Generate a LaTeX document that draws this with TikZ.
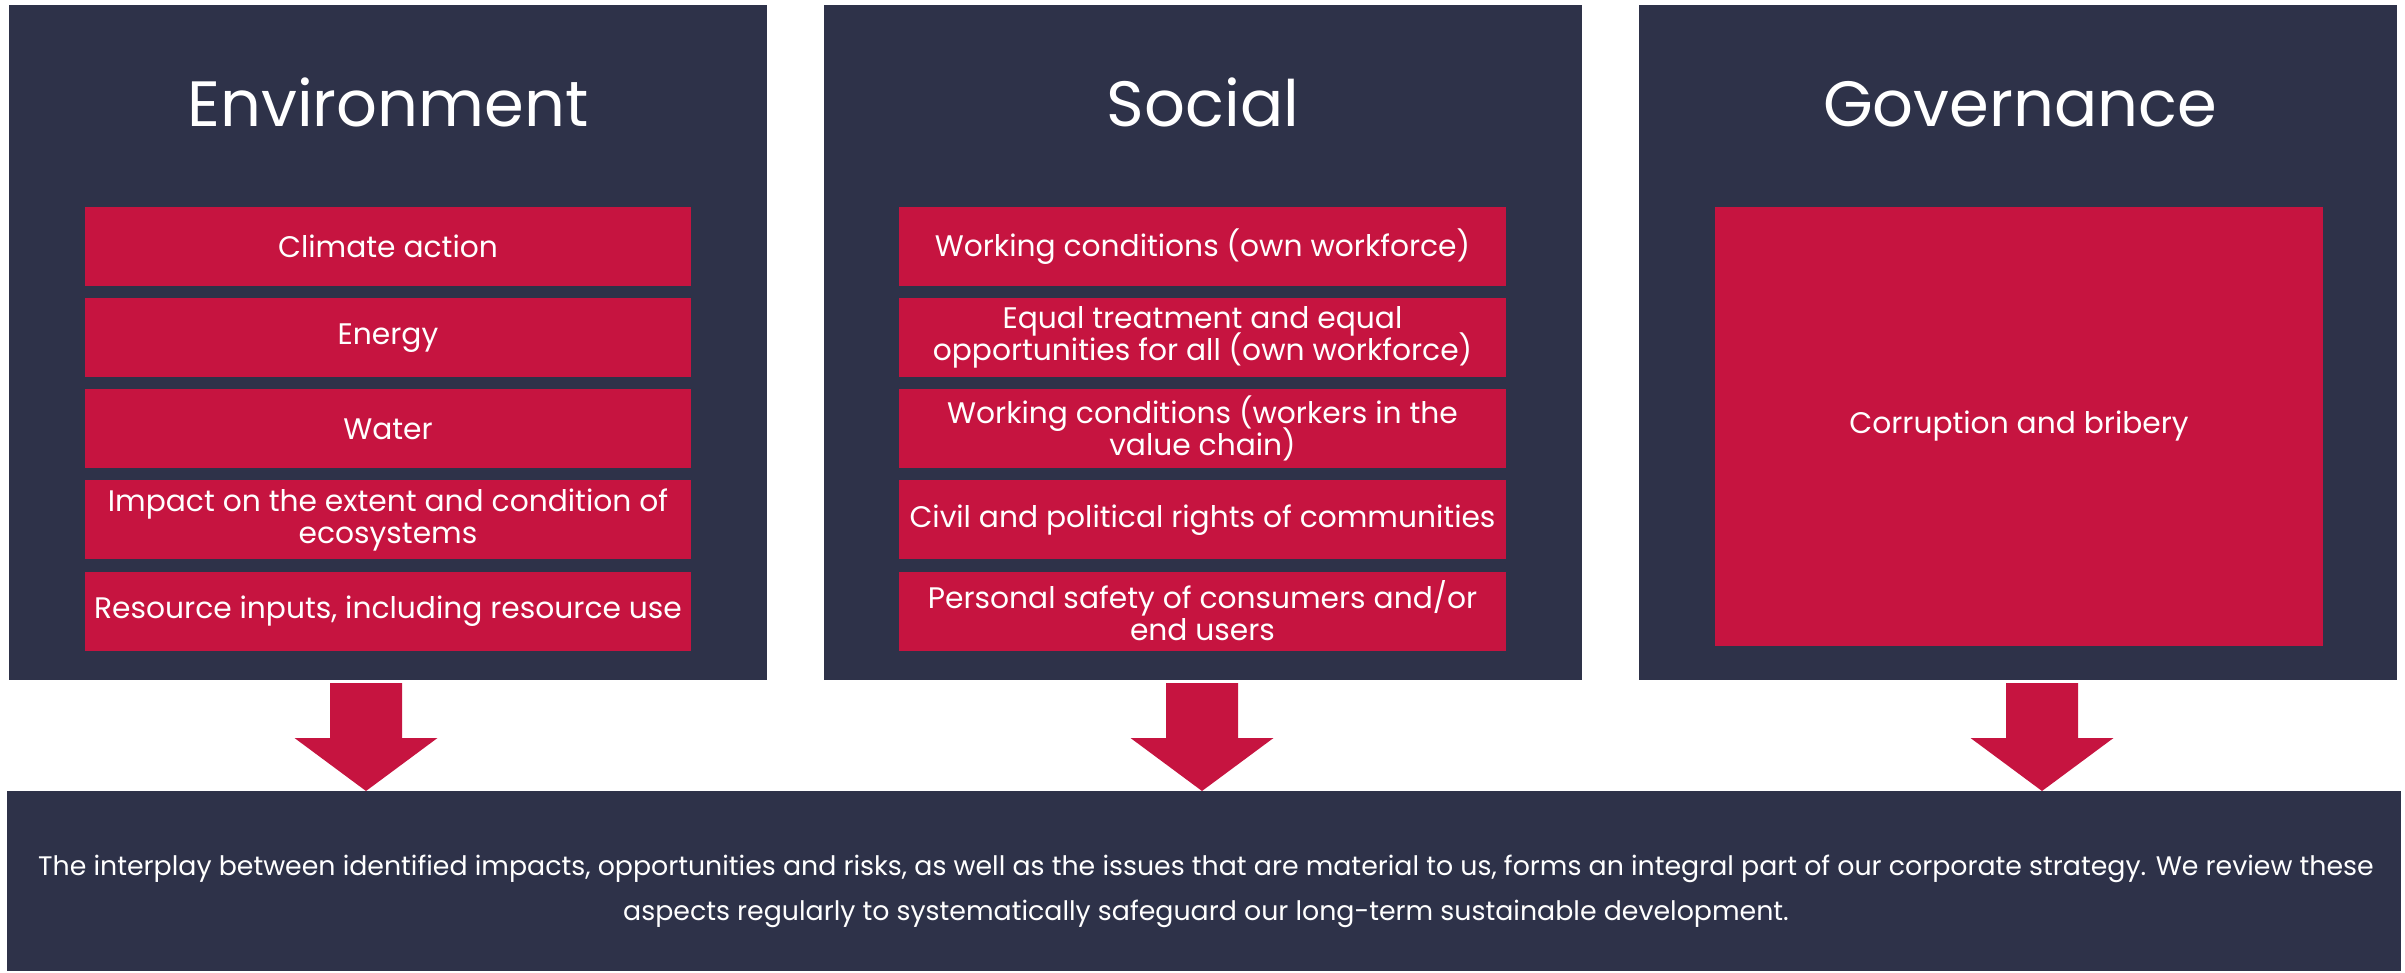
\documentclass[tikz,border=0pt]{standalone}
\usepackage{fontspec}
\setmainfont{Poppins}
\usepackage{tikz}
\usetikzlibrary{positioning}

\definecolor{esgnavy}{RGB}{46,50,73}
\definecolor{esgred}{RGB}{198,20,64}

\newcommand{\TightLines}{\setlength{\lineskiplimit}{-100pt}}

\tikzset{Panel/.style={fill=esgnavy, minimum width=7.58cm, minimum height=6.75cm, inner sep=0}}
\tikzset{Head/.style={text=white, font=\fontsize{18.2}{22}\selectfont, anchor=base}}
\tikzset{Topic/.style={fill=esgred, text=white, minimum width=6.06cm, minimum height=0.79cm,
    inner sep=0, align=center, font=\fontsize{8.45}{9.1}\selectfont\TightLines}}
\tikzset{Summary/.style={text=white, align=center, inner sep=0,
    font=\fontsize{7.62}{12.8}\selectfont\TightLines}}

\newcommand{\DownArrow}[1]{
    \fill[esgred] (#1) ++(-36,0) -- ++(72,0) -- ++(0,55) -- ++(35.5,0)
        -- ++(-71.5,53) -- ++(-71.5,-53) -- ++(35.5,0) -- cycle;
}

\begin{document}
\begin{tikzpicture}[x=0.01cm, y=-0.01cm, node distance=0.107cm]
    \useasboundingbox (0,0) rectangle (2405,973);

    %% Panels
    \node[Panel] (env) at (388,342.5) {};
    \node[Panel] (soc) at (1203,342.5) {};
    \node[Panel] (gov) at (2018,342.5) {};
    \node[Panel, minimum width=23.92cm, minimum height=1.8cm] (sum) at (1204,881) {};

    %% Headings
    \node[Head] (envT) at (388,127) {Environment};
    \node[Head] (socT) at (1203,127) {Social};
    \node[Head] (govT) at (2020,127) {Governance};

    %% Environment topics
    \node[Topic] (e1) at (388,246.5) {Climate action};
    \node[Topic, below=of e1] (e2) {Energy};
    \node[Topic, below=of e2] (e3) {Water};
    \node[Topic, below=of e3] (e4) {Impact on the extent and condition of\\ecosystems};
    \node[Topic, below=of e4] (e5) {Resource inputs, including resource use};

    %% Social topics
    \node[Topic] (s1) at (1202.5,246.5) {Working conditions (own workforce)};
    \node[Topic, below=of s1] (s2) {Equal treatment and equal\\opportunities for all (own workforce)};
    \node[Topic, below=of s2] (s3) {Working conditions (workers in the\\value chain)};
    \node[Topic, below=of s3] (s4) {Civil and political rights of communities};
    \node[Topic, below=of s4] (s5) {Personal safety of consumers and/or\\end users};

    %% Governance topic
    \node[Topic, minimum width=6.08cm, minimum height=4.39cm] (g1) at (2019,426.5) {Corruption and bribery};

    %% Arrows down to the summary
    \coordinate (arrE) at (366,683);
    \coordinate (arrS) at (1202,683);
    \coordinate (arrG) at (2042,683);
    \DownArrow{arrE}
    \DownArrow{arrS}
    \DownArrow{arrG}

    %% Summary text
    \node[Summary] (sumT) at (1206,891) {The interplay between identified impacts, opportunities and risks, as well as the issues that are material to us, forms an integral part of our corporate strategy. We review these\\aspects regularly to systematically safeguard our long-term sustainable development.};

\end{tikzpicture}
\end{document}
